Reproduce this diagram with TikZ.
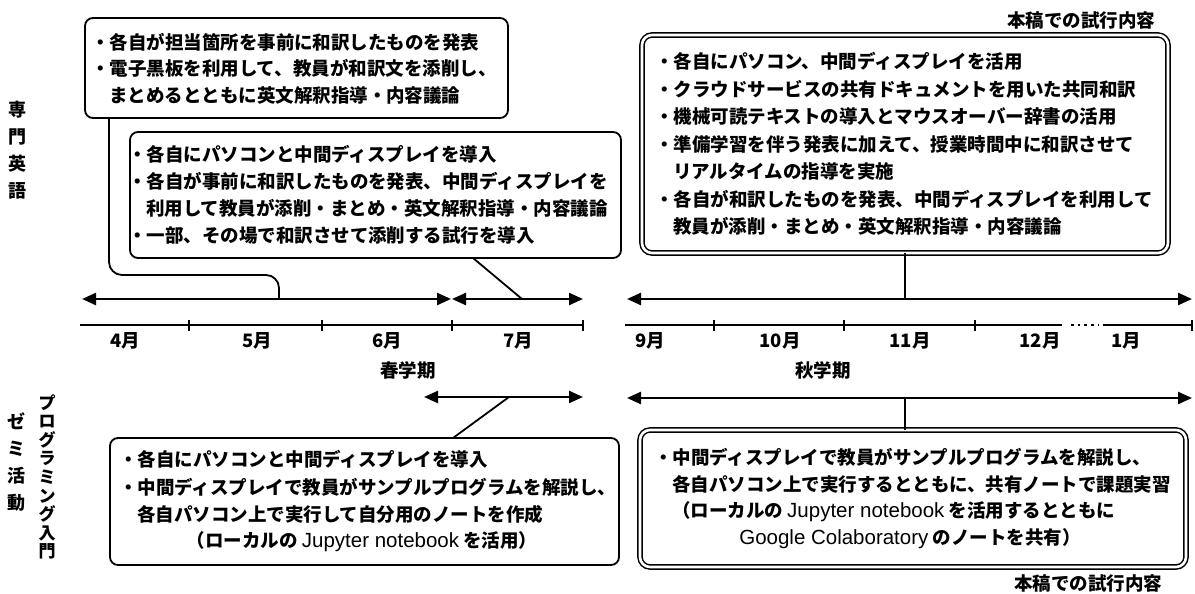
\documentclass[tikz,border=0pt]{standalone}
\usepackage{fontspec}
\setmainfont{Noto Sans CJK JP}
\newfontfamily\latfont{Liberation Sans}
\newcommand{\lat}[1]{{\latfont\mdseries\fontsize{20.5}{22}\selectfont #1}}
\usetikzlibrary{arrows.meta}
\begin{document}
\begin{tikzpicture}[x=1pt,y=-1pt,
  every node/.style={inner sep=0pt, outer sep=0pt, font=\fontsize{18.5}{22}\selectfont\bfseries},
  box/.style={draw, line width=1.8pt, rounded corners=8pt, anchor=north west},
  dbox/.style={draw, line width=1.5pt, double, double distance=2.6pt, rounded corners=10pt, anchor=north west},
  txt/.style={anchor=west},
  vlbl/.style={align=center, font=\fontsize{18}{27}\selectfont\bfseries},
  conn/.style={line width=1.8pt},
  tl/.style={line width=2.4pt, {Triangle[length=14pt,width=12pt]}-{Triangle[length=14pt,width=12pt]}},
  axisline/.style={line width=2.2pt},
  tick/.style={line width=2pt},
]
\useasboundingbox (0,0) rectangle (1195,594);
\fill[white] (0,0) rectangle (1195,594);

% side labels
\node[vlbl] (senmon) at (18,150) {専\\門\\英\\語};
\node[vlbl] (zemi) at (17,462) {ゼ\\ミ\\活\\動};
\node[vlbl, font=\fontsize{17}{18.6}\selectfont\bfseries] (prog) at (47,477) {プ\\ロ\\グ\\ラ\\ミ\\ン\\グ\\入\\門};

% boxes
\node[box, minimum width=423, minimum height=100] (b1) at (85,18) {};
\node[box, minimum width=491, minimum height=126] (b2) at (130,132) {};
\node[dbox, minimum width=526, minimum height=218] (b3) at (642,35) {};
\node[box, minimum width=509, minimum height=127] (b4) at (110,438) {};
\node[dbox, minimum width=546, minimum height=137] (b5) at (640,430) {};

\node (note1) at (1081,20) {本稿での試行内容};
\node (note2) at (1088,583) {本稿での試行内容};

% box 1 text
\node[txt] (t11) at (91,42) {・各自が担当箇所を事前に和訳したものを発表};
\node[txt] (t12) at (91,68) {・電子黒板を利用して、教員が和訳文を添削し、};
\node[txt] (t13) at (109,95) {まとめるとともに英文解釈指導・内容議論};
% box 2 text
\node[txt] (t21) at (128,154) {・各自にパソコンと中間ディスプレイを導入};
\node[txt] (t22) at (128,181) {・各自が事前に和訳したものを発表、中間ディスプレイを};
\node[txt] (t23) at (146,208) {利用して教員が添削・まとめ・英文解釈指導・内容議論};
\node[txt] (t24) at (128,235) {・一部、その場で和訳させて添削する試行を導入};
% box 3 text
\node[txt] (t31) at (655,61) {・各自にパソコン、中間ディスプレイを活用};
\node[txt] (t32) at (655,89) {・クラウドサービスの共有ドキュメントを用いた共同和訳};
\node[txt] (t33) at (655,116) {・機械可読テキストの導入とマウスオーバー辞書の活用};
\node[txt] (t34) at (655,144) {・準備学習を伴う発表に加えて、授業時間中に和訳させて};
\node[txt] (t35) at (673,171) {リアルタイムの指導を実施};
\node[txt] (t36) at (655,199) {・各自が和訳したものを発表、中間ディスプレイを利用して};
\node[txt] (t37) at (673,226) {教員が添削・まとめ・英文解釈指導・内容議論};
% box 4 text
\node[txt] (t41) at (119,459) {・各自にパソコンと中間ディスプレイを導入};
\node[txt] (t42) at (119,487) {・中間ディスプレイで教員がサンプルプログラムを解説し、};
\node[txt] (t43) at (137,514) {各自パソコン上で実行して自分用のノートを作成};
\node (t44) at (362,542) {（ローカルの \lat{Jupyter notebook} を活用）};
% box 5 text
\node[txt] (t51) at (654,457) {・中間ディスプレイで教員がサンプルプログラムを解説し、};
\node[txt] (t52) at (672,484) {各自パソコン上で実行するとともに、共有ノートで課題実習};
\node[txt] (t53) at (672,512) {（ローカルの \lat{Jupyter notebook} を活用するとともに};
\node (t54) at (910,539) {\lat{Google Colaboratory} のノートを共有）};

% period arrows
\coordinate (a1l) at (82,299);  \coordinate (a1r) at (451,299);
\coordinate (a2l) at (452,299); \coordinate (a2r) at (583,299);
\coordinate (a3l) at (627,299); \coordinate (a3r) at (1192,299);
\coordinate (a4l) at (424,397); \coordinate (a4r) at (583,397);
\coordinate (a5l) at (627,398); \coordinate (a5r) at (1192,398);
\draw[tl] (a1l) -- (a1r);
\draw[tl] (a2l) -- (a2r);
\draw[tl] (a3l) -- (a3r);
\draw[tl] (a4l) -- (a4r);
\draw[tl] (a5l) -- (a5r);

% connectors
\coordinate (c1) at (279,275);
\coordinate (j1) at (279,299);
\draw[conn, rounded corners=13pt] ([xshift=24pt]b1.south west) |- (c1) -- (j1);
\coordinate (j2) at (522,299);
\draw[conn] ([xshift=343pt]b2.south west) -- (j2);
\coordinate (j3) at (905,299);
\draw[conn] (b3.south) -- (j3);
\coordinate (j4) at (509,397);
\draw[conn] ([xshift=343pt]b4.north west) -- (j4);
\coordinate (j5) at (905,398);
\draw[conn] ([xshift=265pt]b5.north west) -- (j5);

% axes
\draw[axisline] (80,325) -- (583,325);
\foreach \x in {189,322,452,583} \draw[tick] (\x,319.5) -- (\x,330.5);
\draw[axisline] (625,325) -- (1062,325);
\draw[line width=2.4pt, dash pattern=on 2.5pt off 4.2pt] (1071,325) -- (1099,325);
\draw[axisline] (1103,325) -- (1192,325);
\foreach \x in {714,844,975,1192} \draw[tick] (\x,319.5) -- (\x,330.5);

% month labels
\foreach \x/\m [count=\i] in {125/4月,257/5月,387/6月,518/7月,650/9月,780/10月,910/11月,1040/12月,1126/1月}
  \node (m\i) at (\x,341) {\m};
\node (haru) at (408,370) {春学期};
\node (aki) at (823,370) {秋学期};
\end{tikzpicture}
\end{document}
